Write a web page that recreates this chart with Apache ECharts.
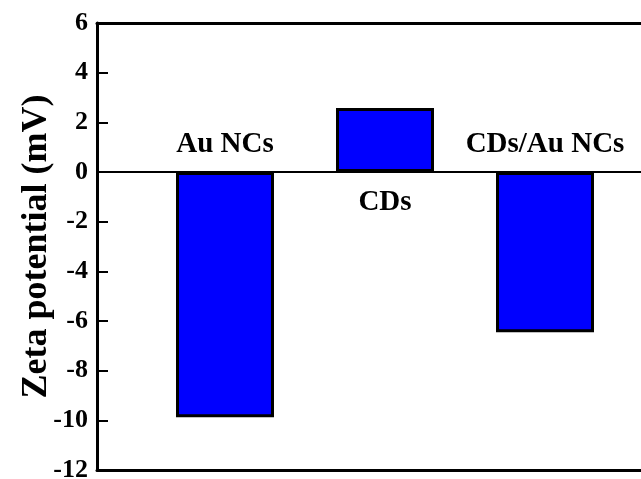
<!DOCTYPE html>
<html>
<head>
	<meta charset="utf-8">
	<title>Zeta potential</title>
</head>
<body style="margin:0;background:#fff;">
<script type="text/javascript" src="https://cdn.jsdelivr.net/npm/echarts@6/dist/echarts.min.js"></script>
<div id="container" style="width: 641px;height: 479px;"></div>
<script type="text/javascript">
    // 样品名称与 Zeta 电位 (mV)
    var samples = ['Au NCs', 'CDs', 'CDs/Au NCs'];
    var zeta = [-9.88, 2.58, -6.45];
    var yTicks = [-12, -10, -8, -6, -4, -2, 0, 2, 4, 6];

    var serif = "'Liberation Serif', 'Times New Roman', serif";
    var myChart = echarts.init(document.getElementById('container'));

    var barData = zeta.map(function (v, i) {
        return [i + 1, v];
    });
    // 名称标签: 负值放在零线上方, 正值放在零线下方
    var labelData = samples.map(function (name, i) {
        var neg = zeta[i] < 0;
        return {
            name: name,
            value: [i + 1, 0],
            label: {
                position: neg ? 'top' : 'bottom',
                distance: neg ? 13 : 16
            }
        };
    });

    var option = {
        backgroundColor: '#fff',
        animation: false,
        grid: {
            left: 97,
            right: 0,
            top: 23,
            bottom: 9,
            containLabel: false,
            outerBoundsMode: 'none'
        },
        xAxis: [
            {
                type: 'value',
                min: 0.2,
                max: 3.6,
                position: 'bottom',
                splitLine: { show: false },
                axisTick: { show: false },
                axisLabel: { show: false },
                axisLine: { show: true, onZero: false, lineStyle: { color: '#000', width: 3 } }
            },
            {
                type: 'value',
                min: 0.2,
                max: 3.6,
                position: 'top',
                splitLine: { show: false },
                axisTick: { show: false },
                axisLabel: { show: false },
                axisLine: { show: true, onZero: false, lineStyle: { color: '#000', width: 3 } }
            }
        ],
        yAxis: {
            type: 'value',
            min: yTicks[0],
            max: yTicks[yTicks.length - 1],
            interval: 2,
            name: 'Zeta potential (mV)',
            nameLocation: 'middle',
            nameGap: 42,
            nameMoveOverlap: false,
            nameTextStyle: {
                fontFamily: serif,
                fontWeight: 'bold',
                fontSize: 36,
                color: '#000'
            },
            splitLine: { show: false },
            axisLine: { show: true, onZero: false, lineStyle: { color: '#000', width: 3 } },
            axisTick: { show: true, inside: true, length: 11, lineStyle: { color: '#000', width: 2 } },
            axisLabel: {
                fontFamily: serif,
                fontWeight: 'bold',
                fontSize: 26,
                color: '#000',
                margin: 9
            }
        },
        series: [
            {
                type: 'bar',
                data: barData,
                barWidth: 98,
                itemStyle: {
                    color: '#0000ff',
                    borderColor: '#000',
                    borderWidth: 3
                },
                markLine: {
                    silent: true,
                    symbol: 'none',
                    label: { show: false },
                    lineStyle: { color: '#000', width: 2, type: 'solid' },
                    data: [{ yAxis: 0 }]
                }
            },
            {
                type: 'scatter',
                data: labelData,
                symbolSize: 0,
                silent: true,
                itemStyle: { opacity: 1 },
                label: {
                    show: true,
                    formatter: '{b}',
                    fontFamily: serif,
                    fontWeight: 'bold',
                    fontSize: 29,
                    color: '#000',
                    opacity: 1
                }
            }
        ]
    };
    myChart.setOption(option);
    window.addEventListener('resize', myChart.resize);
</script>
</body>
</html>
